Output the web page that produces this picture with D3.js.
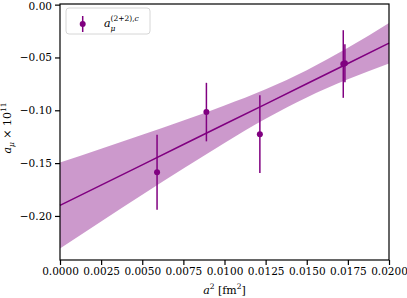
<!DOCTYPE html>
<html>
<head>
<meta charset="utf-8">
<script src="https://cdn.jsdelivr.net/npm/d3@7"></script>
<style>
  body { margin: 0; background: #fff; }
  svg { display: block; }
</style>
</head>
<body>
<div id="chart"></div>
<script>
// data points (a^2 in fm^2, a_mu x 10^11, error)
const pointX = [0.00590, 0.00890, 0.01215, 0.01722, 0.01732];
const pointY = [-0.1586, -0.1017, -0.1226, -0.0562, -0.0555];
const pointErr = [0.0355, 0.0277, 0.0368, 0.0320, 0.0180];

// fit line and its error band
const bandX = [0, 0.0025, 0.005, 0.0075, 0.01, 0.0125, 0.015, 0.0175, 0.02];
const fitY = [-0.1900, -0.1708, -0.1516, -0.1324, -0.1132, -0.0941, -0.0749, -0.0557, -0.0365];
const bandLo = [-0.2307, -0.2053, -0.1800, -0.1551, -0.1309, -0.1081, -0.0878, -0.0706, -0.0557];
const bandHi = [-0.1493, -0.1363, -0.1232, -0.1097, -0.0955, -0.0801, -0.0620, -0.0408, -0.0173];

const xTicks = [0, 0.0025, 0.005, 0.0075, 0.01, 0.0125, 0.015, 0.0175, 0.02];
const yTicks = [0, -0.05, -0.10, -0.15, -0.20];

const width = 407, height = 298;
const margin = { top: 4, right: 18, bottom: 38, left: 60 };
const plotW = width - margin.left - margin.right;
const plotH = height - margin.top - margin.bottom;
const purple = "#800080";
const serif = "DejaVu Serif";

const svg = d3.select("#chart").append("svg")
    .attr("width", width)
    .attr("height", height)
    .attr("font-family", serif);

const g = svg.append("g")
    .attr("transform", `translate(${margin.left},${margin.top})`);

const x = d3.scaleLinear().domain([0, 0.02]).range([0, plotW]);
const y = d3.scaleLinear().domain([-0.2417, 0.0006]).range([plotH, 0]);

// error band
const area = d3.area()
    .x((d, i) => x(bandX[i]))
    .y0((d, i) => y(bandLo[i]))
    .y1((d, i) => y(bandHi[i]))
    .curve(d3.curveMonotoneX);

g.append("path")
    .datum(bandX)
    .attr("d", area)
    .attr("fill", purple)
    .attr("fill-opacity", 0.4);

// fit line
const line = d3.line()
    .x((d, i) => x(bandX[i]))
    .y((d, i) => y(fitY[i]));

g.append("path")
    .datum(bandX)
    .attr("d", line)
    .attr("fill", "none")
    .attr("stroke", purple)
    .attr("stroke-width", 1.5);

// error bars + points
pointX.forEach((px, i) => {
    g.append("line")
        .attr("x1", x(px)).attr("x2", x(px))
        .attr("y1", y(pointY[i] - pointErr[i]))
        .attr("y2", y(pointY[i] + pointErr[i]))
        .attr("stroke", purple)
        .attr("stroke-width", 1.5);
    g.append("circle")
        .attr("cx", x(px))
        .attr("cy", y(pointY[i]))
        .attr("r", 3)
        .attr("fill", purple);
});

// axes
const fmtY = d => d3.format(".2f")(d).replace("-", "\u2212");

const xAxis = g.append("g")
    .attr("transform", `translate(0,${plotH})`)
    .call(d3.axisBottom(x).tickValues(xTicks).tickFormat(d3.format(".4f"))
        .tickSize(5).tickPadding(3));

const yAxis = g.append("g")
    .call(d3.axisLeft(y).tickValues(yTicks).tickFormat(fmtY)
        .tickSize(5).tickPadding(3));

[xAxis, yAxis].forEach(ax => {
    ax.attr("font-family", serif).attr("font-size", 10.5);
    ax.select(".domain").remove();
    ax.selectAll("line").attr("stroke", "#000").attr("stroke-width", 1.2);
    ax.selectAll("text").attr("fill", "#000");
});
yAxis.selectAll("text").filter(d => d === 0).attr("dy", "0.42em");

// frame
g.append("rect")
    .attr("width", plotW)
    .attr("height", plotH)
    .attr("fill", "none")
    .attr("stroke", "#000")
    .attr("stroke-width", 1.2);

// x label
const xl = svg.append("text")
    .attr("x", margin.left + plotW / 2)
    .attr("y", 294)
    .attr("text-anchor", "middle")
    .attr("font-size", 11);
xl.append("tspan").attr("font-style", "italic").text("a");
xl.append("tspan").attr("dy", -5).attr("font-size", 7.5).text("2");
xl.append("tspan").attr("dy", 5).text(" [fm");
xl.append("tspan").attr("dy", -5).attr("font-size", 7.5).text("2");
xl.append("tspan").attr("dy", 5).text("]");

// y label
const yl = svg.append("text")
    .attr("transform", `translate(11,${margin.top + plotH / 2 - 4}) rotate(-90)`)
    .attr("text-anchor", "middle")
    .attr("font-size", 11);
yl.append("tspan").attr("font-style", "italic").text("a");
yl.append("tspan").attr("dy", 3).attr("font-size", 7.5).attr("font-style", "italic").text("\u03bc");
yl.append("tspan").attr("dy", -3).text(" \u00d7 10");
yl.append("tspan").attr("dy", -5).attr("font-size", 7.5).text("11");

// legend
const lg = g.append("g").attr("transform", "translate(6,4)");
lg.append("rect")
    .attr("width", 84).attr("height", 26)
    .attr("rx", 3)
    .attr("fill", "#fff")
    .attr("fill-opacity", 0.8)
    .attr("stroke", "#d6d6d6")
    .attr("stroke-width", 1);
lg.append("line")
    .attr("x1", 16.7).attr("x2", 16.7)
    .attr("y1", 8).attr("y2", 24)
    .attr("stroke", purple).attr("stroke-width", 1.5);
lg.append("circle")
    .attr("cx", 16.7).attr("cy", 16).attr("r", 3).attr("fill", purple);
lg.append("text")
    .attr("x", 38).attr("y", 19)
    .attr("font-size", 11).attr("font-style", "italic").text("a");
lg.append("text")
    .attr("x", 44.5).attr("y", 12.5)
    .attr("font-size", 7.5)
    .html('(2+2),<tspan font-style="italic">c</tspan>');
lg.append("text")
    .attr("x", 44.5).attr("y", 23)
    .attr("font-size", 7.5).attr("font-style", "italic").text("\u03bc");
</script>
</body>
</html>
